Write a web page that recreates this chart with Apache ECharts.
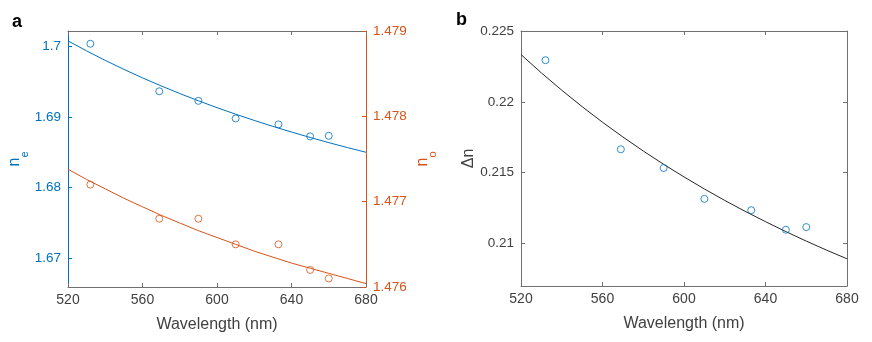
<!DOCTYPE html>
<html><head><meta charset="utf-8">
<script src="https://cdn.jsdelivr.net/npm/echarts@6/dist/echarts.min.js"></script>
<style>html,body{margin:0;padding:0;background:#fff}#c{width:872px;height:342px}</style>
</head><body><div id="c"></div>
<script>
// Measured wavelengths (nm)
const wavelengths = [532, 569, 590, 610, 633, 650, 660];
// Extraordinary index n_e (left axis, panel a)
const neValues = [1.7003, 1.6936, 1.69225, 1.68977, 1.68893, 1.68724, 1.68732];
// Ordinary index n_o (right axis, panel a)
const noValues = [1.4772, 1.4768, 1.4768, 1.4765, 1.4765, 1.4762, 1.4761];
// Birefringence Δn (panel b)
const dnValues = [0.22294, 0.21665, 0.21533, 0.21315, 0.21235, 0.21097, 0.21116];
// Fit curves
const fitWavelengths = [520, 530, 540, 550, 560, 570, 580, 590, 600, 610, 620, 630, 640, 650, 660, 670, 680];
const neFit = [1.70071, 1.69929, 1.69796, 1.69669, 1.69549, 1.69436, 1.69328, 1.69226, 1.69129,
               1.69037, 1.68949, 1.68865, 1.68785, 1.68709, 1.68636, 1.68566, 1.685];
const noFit = [1.47738, 1.47726, 1.47715, 1.47704, 1.47694, 1.47684, 1.47675, 1.47666, 1.47658,
               1.4765, 1.47642, 1.47635, 1.47628, 1.47622, 1.47616, 1.4761, 1.47604];
const dnFit = [0.22334, 0.22204, 0.22082, 0.21966, 0.21856, 0.21752, 0.21653, 0.21559, 0.2147,
               0.21385, 0.21304, 0.21227, 0.21154, 0.21084, 0.21017, 0.20953, 0.20892];
// Tick labels
const xTicks = [520, 560, 600, 640, 680];
const neTicks = [1.67, 1.68, 1.69, 1.7];
const noTicks = [1.476, 1.477, 1.478, 1.479];
const dnTicks = [0.21, 0.215, 0.22, 0.225];

const BLUE = '#0072BD', ORANGE = '#D95319', DARK = '#262626', FRAME = '#707070', TXT = '#404040';
const FONT = '"Liberation Sans", Arial, Helvetica, sans-serif';
const pair = (xs, ys) => xs.map((x, i) => [x, ys[i]]);

function xAx(grid, top) {
  return {
    type: 'value', gridIndex: grid, position: top ? 'top' : 'bottom',
    min: 520, max: 680, interval: 40,
    axisLine: { show: true, onZero: false, lineStyle: { color: FRAME, width: 1 } },
    axisTick: { show: true, inside: true, length: 4, lineStyle: { color: FRAME },
      customValues: xTicks },
    axisLabel: { show: !top, color: TXT, fontSize: 14, fontFamily: FONT, margin: 6,
      customValues: xTicks },
    splitLine: { show: false },
    name: top ? '' : 'Wavelength (nm)', nameLocation: 'middle', nameGap: 30,
    nameTextStyle: { color: TXT, fontSize: 16, fontFamily: FONT }
  };
}
function yAx(grid, pos, min, max, ticks, color, labelColor, showLabel, name, rich, gap, fmt) {
  return {
    type: 'value', gridIndex: grid, position: pos, min: min, max: max,
    axisLine: { show: true, onZero: false, lineStyle: { color: color, width: 1 } },
    axisTick: { show: true, inside: true, length: 4, lineStyle: { color: color }, customValues: ticks },
    axisLabel: { show: showLabel, color: labelColor, fontSize: 13.5, fontFamily: FONT, margin: 7,
      customValues: ticks, formatter: fmt },
    splitLine: { show: false },
    name: name, nameLocation: 'middle', nameGap: gap, nameRotate: 90,
    nameTextStyle: { color: labelColor, fontSize: 16, fontFamily: FONT, rich: rich }
  };
}
const subRich = (c) => ({
  a: { fontSize: 16, color: c, fontFamily: FONT, verticalAlign: 'top', lineHeight: 16 },
  b: { fontSize: 11, color: c, fontFamily: FONT, verticalAlign: 'bottom', lineHeight: 24 }
});

const chart = echarts.init(document.getElementById('c'), null, { renderer: 'canvas' });
chart.setOption({
  backgroundColor: '#fff',
  animation: false,
  textStyle: { fontFamily: FONT },
  graphic: [
    { type: 'text', left: 12, top: 13, style: { text: 'a', font: 'bold 18px ' + FONT, fill: '#000' } },
    { type: 'text', left: 456, top: 11, style: { text: 'b', font: 'bold 18px ' + FONT, fill: '#000' } }
  ],
  grid: [
    { left: 68, right: 506, top: 31, bottom: 55 },
    { left: 521, right: 25, top: 31, bottom: 56 }
  ],
  xAxis: [xAx(0, false), xAx(0, true), xAx(1, false), xAx(1, true)],
  yAxis: [
    yAx(0, 'left', 1.666, 1.7021, neTicks, BLUE, BLUE, true, '{a|n}{b|e}', subRich(BLUE), 36.5, v => String(+v.toFixed(3))),
    yAx(0, 'right', 1.476, 1.479, noTicks, ORANGE, ORANGE, true, '{a|n}{b|o}', subRich(ORANGE), 48.5, v => v.toFixed(3)),
    yAx(1, 'left', 0.207, 0.225, dnTicks, FRAME, TXT, true, 'Δn', null, 44, v => String(+v.toFixed(3))),
    yAx(1, 'right', 0.207, 0.225, dnTicks, FRAME, TXT, false, '', null, 10, null)
  ],
  series: [
    { type: 'line', xAxisIndex: 0, yAxisIndex: 0, data: pair(fitWavelengths, neFit), smooth: false,
      showSymbol: false, lineStyle: { color: BLUE, width: 1 }, z: 2 },
    { type: 'scatter', xAxisIndex: 0, yAxisIndex: 0, data: pair(wavelengths, neValues), symbol: 'circle', symbolSize: 7,
      itemStyle: { color: 'rgba(255,255,255,0)', borderColor: BLUE, borderWidth: 1 }, z: 3 },
    { type: 'line', xAxisIndex: 0, yAxisIndex: 1, data: pair(fitWavelengths, noFit), smooth: false,
      showSymbol: false, lineStyle: { color: ORANGE, width: 1 }, z: 2 },
    { type: 'scatter', xAxisIndex: 0, yAxisIndex: 1, data: pair(wavelengths, noValues), symbol: 'circle', symbolSize: 7,
      itemStyle: { color: 'rgba(255,255,255,0)', borderColor: ORANGE, borderWidth: 1 }, z: 3 },
    { type: 'line', xAxisIndex: 2, yAxisIndex: 2, data: pair(fitWavelengths, dnFit), smooth: false,
      showSymbol: false, lineStyle: { color: DARK, width: 1 }, z: 2 },
    { type: 'scatter', xAxisIndex: 2, yAxisIndex: 2, data: pair(wavelengths, dnValues), symbol: 'circle', symbolSize: 7,
      itemStyle: { color: 'rgba(255,255,255,0)', borderColor: BLUE, borderWidth: 1 }, z: 3 }
  ]
});
</script></body></html>
